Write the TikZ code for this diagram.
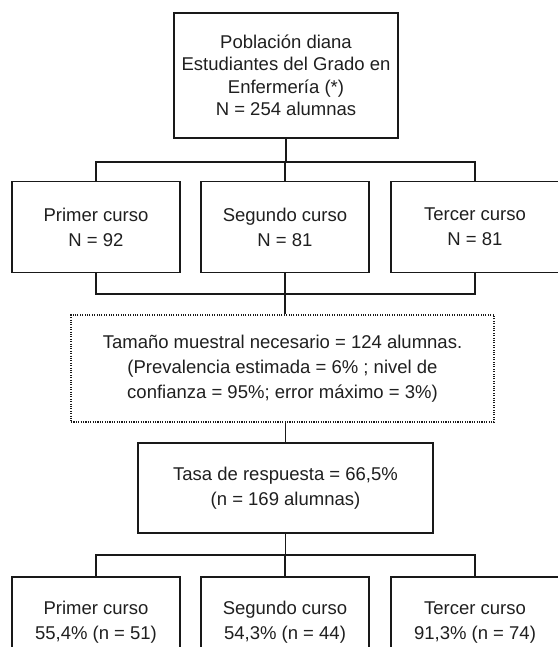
\documentclass[tikz,border=0pt]{standalone}
\usepackage{fontspec}
\setmainfont{Liberation Sans}
\begin{document}
\begin{tikzpicture}[x=1pt,y=-1pt,
  box/.style={draw=black!90,line width=1.3pt,align=center,inner sep=0pt,
    font=\fontsize{18.5}{25}\selectfont,text=black!88},
  dotbox/.style={box,line width=1.1pt,dash pattern=on 1.1pt off 1.3pt},
  link/.style={draw=black!90,line width=1.3pt}]
\useasboundingbox (0,0) rectangle (557,647);
\node[box,minimum width=224pt,minimum height=125pt,font=\fontsize{18.5}{22.5}\selectfont] (top) at (286,75.5)
  {Población diana\\Estudiantes del Grado en\\Enfermería (*)\\N = 254 alumnas};
\node[box,minimum width=168pt,minimum height=91pt] (p1) at (96,227) {Primer curso\\N = 92};
\node[box,minimum width=168pt,minimum height=91pt] (p2) at (285,227) {Segundo curso\\N = 81};
\node[box,minimum width=168pt,minimum height=91pt] (p3) at (475,227) {Tercer curso\\N = 81};
\node[dotbox,minimum width=423pt,minimum height=107pt] (ss) at (282.5,368.5)
  {Tamaño muestral necesario = 124 alumnas.\\(Prevalencia estimada = 6\% ; nivel de\\confianza = 95\%; error máximo = 3\%)};
\node[box,minimum width=295pt,minimum height=90pt] (rr) at (285.5,488)
  {Tasa de respuesta = 66,5\%\\(n = 169 alumnas)};
\node[box,minimum width=168pt,minimum height=91pt] (r1) at (96,622.5) {Primer curso\\55,4\% (n = 51)};
\node[box,minimum width=168pt,minimum height=91pt] (r2) at (285,622.5) {Segundo curso\\54,3\% (n = 44)};
\node[box,minimum width=168pt,minimum height=91pt] (r3) at (475,622.5) {Tercer curso\\91,3\% (n = 74)};
% top fan-out
\coordinate (h1) at (285,162);
\draw[link] (top.south) -- (top.south |- h1);
\draw[link] (p1.north) -- (p1.north |- h1) -- (p3.north |- h1) -- (p3.north);
\draw[link] (p2.north) -- (p2.north |- h1);
% merge
\coordinate (h2) at (285,294);
\draw[link] (p1.south) -- (p1.south |- h2) -- (p3.south |- h2) -- (p3.south);
\draw[link] (p2.south) -- (p2.south |- ss.north);
\draw[link] (ss.south -| rr.north) -- (rr.north);
% bottom fan-out
\coordinate (h3) at (285,555);
\draw[link] (rr.south) -- (rr.south |- h3);
\draw[link] (r1.north) -- (r1.north |- h3) -- (r3.north |- h3) -- (r3.north);
\draw[link] (r2.north) -- (r2.north |- h3);
\end{tikzpicture}
\end{document}
